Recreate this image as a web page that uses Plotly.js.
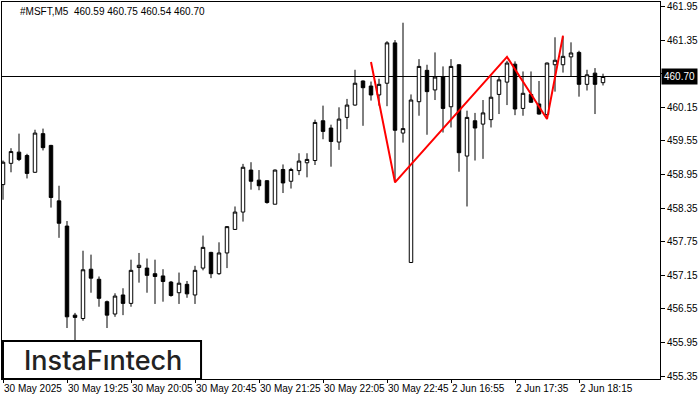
<!DOCTYPE html>
<html>
<head>
<meta charset="utf-8">
<script src="https://cdn.plot.ly/plotly-3.0.1.min.js"></script>
<style>html,body{margin:0;padding:0;background:#fff;}#chart{width:700px;height:400px;}</style>
</head>
<body>
<div id="chart"></div>
<script>
// Bars: M5 candles of #MSFT
const openP  = [458.77,459.15,459.35,459.29,458.99,459.68,459.47,458.48,458.03,456.44,
                456.38,457.26,457.08,456.68,456.46,456.80,456.65,457.29,457.28,457.18,
                457.14,457.03,456.84,456.99,456.80,457.28,457.56,457.18,457.55,457.97,
                458.28,459.03,458.85,458.84,458.42,459.04,458.83,459.02,459.16,459.20,
                459.91,459.78,459.53,459.97,460.19,460.62,460.53,460.37,460.58,461.30,
                459.69,457.38,460.25,460.81,460.46,460.70,460.16,460.91,459.28,459.91,
                459.85,459.93,460.38,460.60,460.92,460.13,460.38,460.21,460.02,460.91,
                460.91,461.05,461.13,460.56,460.76,460.59];
const highP  = [459.20,459.42,459.68,459.32,459.75,459.77,459.48,458.75,458.12,456.48,
                457.59,457.52,457.13,456.70,456.83,456.92,457.43,457.55,457.45,457.43,
                457.26,457.05,457.20,457.05,457.32,457.86,457.57,457.74,458.03,458.38,
                459.14,459.17,459.03,458.85,459.04,459.13,459.07,459.33,459.33,459.93,
                460.18,459.84,460.15,460.30,460.82,460.63,460.61,460.66,461.33,461.35,
                461.66,460.38,461.01,460.91,461.13,460.88,461.01,460.92,460.09,460.05,
                460.28,460.70,460.70,460.98,460.97,460.79,460.79,460.62,460.95,461.40,
                461.41,461.31,461.16,460.82,460.85,460.75];
const lowP   = [458.50,458.99,459.19,458.88,458.98,459.38,458.36,457.82,456.21,455.95,
                456.34,456.84,456.59,456.21,456.41,456.44,456.59,457.02,456.84,456.64,
                456.68,456.77,456.64,456.75,456.64,457.24,457.10,457.16,457.28,457.96,
                458.11,458.68,458.67,458.43,458.42,458.62,458.70,458.94,458.90,459.12,
                459.58,459.09,459.39,459.76,460.18,459.82,460.27,460.18,460.17,458.81,
                459.52,457.37,460.00,459.66,460.28,459.70,459.79,459.00,458.38,459.20,
                459.23,459.79,460.03,460.19,460.01,460.00,460.23,460.02,459.98,460.43,
                460.77,460.70,460.34,460.45,460.03,460.54];
const closeP = [459.17,459.36,459.22,458.97,459.69,459.43,458.54,458.08,456.41,456.40,
                457.25,457.10,456.74,456.44,456.78,456.65,457.24,457.33,457.15,457.13,
                457.04,456.79,457.01,456.82,457.24,457.65,457.18,457.55,458.02,458.28,
                459.08,458.83,458.75,458.45,459.03,458.80,459.04,459.19,459.22,459.88,
                459.72,459.54,459.94,460.19,460.58,460.50,460.37,460.56,461.30,459.74,
                459.77,460.28,460.88,460.43,460.69,460.13,460.88,459.34,459.97,459.78,
                460.05,460.33,460.64,460.94,460.12,460.40,460.24,460.03,460.94,460.99,
                461.06,461.12,460.56,460.73,460.56,460.70];

// Time axis labels (every 8th bar)
const timeTickBars   = [0, 8, 16, 24, 32, 40, 48, 56, 64, 72];
const timeTickLabels = ["30 May 2025","30 May 19:25","30 May 20:05","30 May 20:45","30 May 21:25",
                        "30 May 22:05","30 May 22:45","2 Jun 16:55","2 Jun 17:35","2 Jun 18:15"];

// Price axis labels (460.75 sits under the current-price tag)
const priceTicks = [455.35,455.95,456.55,457.15,457.75,458.35,458.95,459.55,460.15,460.75,461.35,461.95];
const hiddenTick = 460.75;

// Pattern (red polyline) pivots
const patternBars   = [46, 49, 63, 68, 70];
const patternPrices = [460.96, 458.81, 461.05, 459.94, 461.43];

// Current price
const lastPrice = 460.70;
const symbolLabel = "#MSFT,M5";
const lastOHLC = [460.59, 460.75, 460.54, 460.70];

const barIdx = openP.map((_, i) => i);

const traces = [
  {
    type: 'candlestick',
    x: barIdx, open: openP, high: highP, low: lowP, close: closeP,
    increasing: {line: {color: '#000', width: 1}, fillcolor: '#ffffff'},
    decreasing: {line: {color: '#000', width: 1}, fillcolor: '#000000'},
    whiskerwidth: 0,
    hoverinfo: 'skip',
    showlegend: false
  },
  {
    type: 'scatter', mode: 'lines',
    x: patternBars, y: patternPrices,
    line: {color: '#ff0000', width: 2},
    hoverinfo: 'skip', showlegend: false
  }
];

const axisFont = {family: 'Liberation Sans, Arial, sans-serif', size: 10, color: '#000'};

const layout = {
  width: 700, height: 400,
  margin: {l: 2, r: 40, t: 2, b: 21, pad: 0},
  paper_bgcolor: '#fff', plot_bgcolor: '#fff',
  showlegend: false,
  boxgap: 0.38,
  xaxis: {
    type: 'linear',
    range: [-0.125, 82.125],
    tickmode: 'array', tickvals: timeTickBars, ticktext: timeTickLabels,
    tickangle: 0,
    ticks: 'outside', ticklen: 3, tickcolor: '#000', tickwidth: 1,
    ticklabelposition: 'outside right',
    showgrid: false, zeroline: false,
    showline: true, mirror: true, linecolor: '#000', linewidth: 1,
    rangeslider: {visible: false},
    tickfont: axisFont, fixedrange: true
  },
  yaxis: {
    side: 'right',
    range: [455.30, 462.03],
    tickmode: 'array', tickvals: priceTicks,
    ticktext: priceTicks.map(v => v === hiddenTick ? '' : v.toFixed(2)),
    ticks: 'outside', ticklen: 4, tickcolor: '#000', tickwidth: 1,
    showgrid: false, zeroline: false,
    showline: true, mirror: true, linecolor: '#000', linewidth: 1,
    tickfont: axisFont, fixedrange: true
  },
  shapes: [
    {type: 'line', xref: 'paper', x0: 0, x1: 1, yref: 'y', y0: lastPrice, y1: lastPrice,
     line: {color: '#000', width: 1}, layer: 'below'},
    {type: 'rect', xref: 'paper', yref: 'paper', x0: 0.0015, x1: 0.3025, y0: 0.0, y1: 0.101,
     fillcolor: '#fff', line: {color: '#000', width: 2}, layer: 'above'}
  ],
  annotations: [
    {xref: 'paper', yref: 'paper', x: 0.024, y: 0.976, xanchor: 'left', yanchor: 'middle',
     text: symbolLabel + '&nbsp;&nbsp;' + lastOHLC.map(v => v.toFixed(2)).join(' '),
     showarrow: false, font: axisFont},
    {xref: 'paper', yref: 'y', x: 1, y: lastPrice, xanchor: 'left', yanchor: 'middle',
     xshift: 1, text: lastPrice.toFixed(2), showarrow: false,
     bgcolor: '#000', font: {family: 'Liberation Sans, Arial, sans-serif', size: 10, color: '#fff'},
     borderpad: 2},
    {xref: 'paper', yref: 'paper', x: 0.153, y: 0.05, xanchor: 'center', yanchor: 'middle',
     text: 'InstaFıntech', showarrow: false,
     font: {family: 'Inter, Lato, sans-serif', size: 27, weight: 500, color: '#222'}}
  ]
};

Plotly.newPlot('chart', traces, layout, {staticPlot: true, displayModeBar: false});
</script>
</body>
</html>
